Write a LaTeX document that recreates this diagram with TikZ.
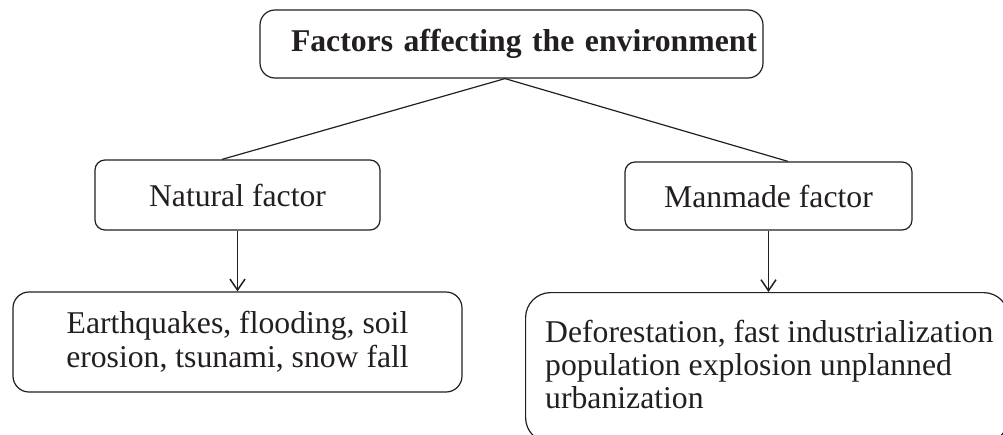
\documentclass[tikz,border=0pt]{standalone}
\usepackage{fontspec}
\setmainfont{Liberation Serif}
\usetikzlibrary{arrows.meta}
\definecolor{ink}{HTML}{231F20}
\begin{document}
\begin{tikzpicture}[x=1pt,y=-1pt,
 box/.style={draw=ink, line width=1.2pt, inner sep=0pt, text=ink},
 lbl/.style={font=\fontsize{31.7}{33.5}\selectfont, text=ink},
 link/.style={draw=ink, line width=1.2pt},
 arr/.style={link, -{Straight Barb[length=11pt,width=15pt,line width=1.5pt]}}]
\clip (0,0) rectangle (1003,434);
\node (top) [box, rounded corners=15pt, minimum width=503pt, minimum height=68pt,
  text width=491pt, align=right, font=\bfseries\fontsize{31.7}{34}\selectfont] at (511.5,44) {Factors affecting the environment};
\node (nat) [box, lbl, rounded corners=10pt, minimum width=285pt, minimum height=70pt] at (237.5,195) {Natural factor};
\node (man) [box, lbl, rounded corners=10pt, minimum width=287pt, minimum height=68pt] at (768.5,196) {Manmade factor};
\node (bl) [box, lbl, rounded corners=16pt, minimum width=449pt, minimum height=100pt, align=center] at (237.5,342)
  {Earthquakes, flooding, soil\\erosion, tsunami, snow fall};
\node (br) [box, rounded corners=25pt, minimum width=483pt, minimum height=150pt, anchor=north west] at (525,292) {};
\node (brt) [lbl, font=\fontsize{31.7}{33}\selectfont, anchor=base west, align=left, inner sep=0pt] at (545,408)
  {Deforestation, fast industrialization\\population explosion unplanned\\urbanization};
\coordinate (apex) at ([xshift=-6.5pt]top.south);
\coordinate (natin) at ([xshift=-15.5pt]nat.north);
\coordinate (manin) at ([xshift=19.5pt]man.north);
\draw[link] (natin) -- (apex) -- (manin);
\draw[arr] (nat.south) -- (bl.north);
\draw[arr] (man.south) -- (man.south |- br.north);
\end{tikzpicture}
\end{document}
